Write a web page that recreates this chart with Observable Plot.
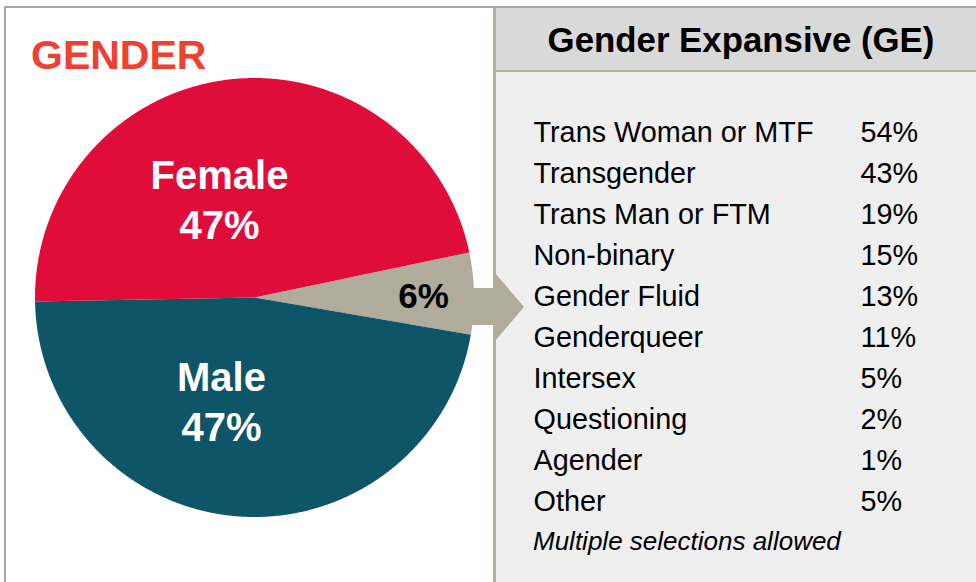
<!DOCTYPE html>
<html>
<head>
<meta charset="utf-8">
<script src="https://cdn.jsdelivr.net/npm/d3@7"></script>
<script src="https://cdn.jsdelivr.net/npm/@observablehq/plot@0.6"></script>
<style>
  body { margin: 0; background: #fff; font-family: "Liberation Sans", Arial, sans-serif; }
  #wrap { position: relative; width: 976px; height: 582px; overflow: hidden; background: #fff; }
  .abs { position: absolute; }
  #topline { left: 4px; top: 6px; width: 972px; height: 2px; background: #a6a6a6; }
  #leftline { left: 4px; top: 6px; width: 2px; height: 576px; background: #a6a6a6; }
  #panel { left: 493px; top: 8px; width: 483px; height: 574px; background: #efefef; border-left: 3px solid #b5ad9d; box-sizing: border-box; }
  #header { left: 496px; top: 8px; width: 480px; height: 62px; background: #d9d9d9; border-bottom: 2px solid #b5ad9d; }
  #headerText { left: 496px; top: 22.6px; width: 490px; text-align: center; font-weight: bold; font-size: 34.8px; line-height: 1; color: #000; white-space: nowrap; }
  #title { left: 31px; top: 35px; font-weight: bold; font-size: 41px; line-height: 1; color: #ef4130; white-space: nowrap; }
  #note { left: 533px; top: 528px; font-style: italic; font-size: 26px; line-height: 1; color: #000; white-space: nowrap; }
  #arrow { left: 468px; top: 273px; width: 60px; height: 68px; background: #b1ab9b;
           clip-path: polygon(0px 15px, 27px 15px, 27px 0px, 56px 34px, 27px 68px, 27px 52px, 0px 52px); }
  .layer { position: absolute; left: 0; top: 0; }
</style>
</head>
<body>
<div id="wrap">
  <div id="panel" class="abs"></div>
  <div id="header" class="abs"></div>
  <div id="topline" class="abs"></div>
  <div id="leftline" class="abs"></div>
  <div id="headerText" class="abs">Gender Expansive (GE)</div>
  <div id="title" class="abs">GENDER</div>
  <div id="note" class="abs">Multiple selections allowed</div>
  <div id="arrow" class="abs"></div>
  <div id="pie" class="layer"></div>
  <div id="list" class="layer"></div>
</div>
<script>
// ---- Data ----
const pieCategories = ["GE", "Male", "Female"];
const pieValues = [6, 47, 47];
const pieColors = ["#b1ab9b", "#0f5568", "#e00d3a"];

const geCategories = ["Trans Woman or MTF", "Transgender", "Trans Man or FTM", "Non-binary",
  "Gender Fluid", "Genderqueer", "Intersex", "Questioning", "Agender", "Other"];
const geValues = [54, 43, 19, 15, 13, 11, 5, 2, 1, 5];

// ---- Pie geometry (compass angles: 0 = up, clockwise) ----
const W = 976, H = 582;
const startDeg = 78.15;
const arcs = d3.pie().sort(null).startAngle(startDeg * Math.PI / 180)
  .endAngle(startDeg * Math.PI / 180 + 2 * Math.PI)(pieValues);

const polys = [];
const labels = [];
const labelRadius = {GE: 0.77, Male: 0.5, Female: 0.5};
arcs.forEach((a, i) => {
  const name = pieCategories[i];
  polys.push({name, x: 0, y: 0});
  const n = Math.max(2, Math.ceil((a.endAngle - a.startAngle) / 0.005));
  for (let k = 0; k <= n; k++) {
    const t = a.startAngle + (a.endAngle - a.startAngle) * k / n;
    polys.push({name, x: Math.sin(t), y: Math.cos(t)});
  }
  polys.push({name, x: 0, y: 0});
  const mid = (a.startAngle + a.endAngle) / 2;
  const r = labelRadius[name];
  labels.push({
    name,
    x: r * Math.sin(mid),
    y: r * Math.cos(mid),
    text: name === "GE" ? `${pieValues[i]}%` : `${name}\n${pieValues[i]}%`
  });
});

const font = "Liberation Sans, Arial, sans-serif";

const piePlot = Plot.plot({
  width: W, height: H,
  style: {background: "transparent", fontFamily: font},
  x: {domain: [-1, 1], range: [34.5, 473.5], axis: null},
  y: {domain: [-1, 1], range: [516.5, 77.5], axis: null},
  color: {domain: pieCategories, range: pieColors},
  marks: [
    Plot.line(polys, {x: "x", y: "y", z: "name", fill: "name", stroke: "none", curve: "linear"}),
    Plot.text(labels.filter(d => d.name === "Female"), {
      x: "x", y: "y", text: "text", fill: "white", fontWeight: "bold", fontSize: 40,
      lineHeight: 1.25, textAnchor: "middle", lineAnchor: "middle", dx: -22.7, dy: 10
    }),
    Plot.text(labels.filter(d => d.name === "Male"), {
      x: "x", y: "y", text: "text", fill: "white", fontWeight: "bold", fontSize: 40,
      lineHeight: 1.25, textAnchor: "middle", lineAnchor: "middle", dx: -24.7, dy: -7
    }),
    Plot.text(labels.filter(d => d.name === "GE"), {
      x: "x", y: "y", text: "text", fill: "black", fontWeight: "bold", fontSize: 35,
      textAnchor: "middle", lineAnchor: "middle", dx: 0, dy: 2
    })
  ]
});
document.getElementById("pie").appendChild(piePlot);

const rows = geCategories.map((c, i) => ({category: c, value: geValues[i]}));
const listPlot = Plot.plot({
  width: W, height: H,
  style: {background: "transparent", fontFamily: font},
  x: {type: "point", domain: ["label", "value"], range: [533, 860], padding: 0, axis: null},
  y: {type: "point", domain: geCategories, range: [130.8, 501.8], padding: 0, axis: null},
  marks: [
    Plot.text(rows, {x: () => "label", y: "category", text: "category", textAnchor: "start",
      fontSize: 28.8, fill: "black"}),
    Plot.text(rows, {x: () => "value", y: "category", text: d => `${d.value}%`, textAnchor: "start",
      fontSize: 28.8, fill: "black"})
  ]
});
document.getElementById("list").appendChild(listPlot);
</script>
</body>
</html>
